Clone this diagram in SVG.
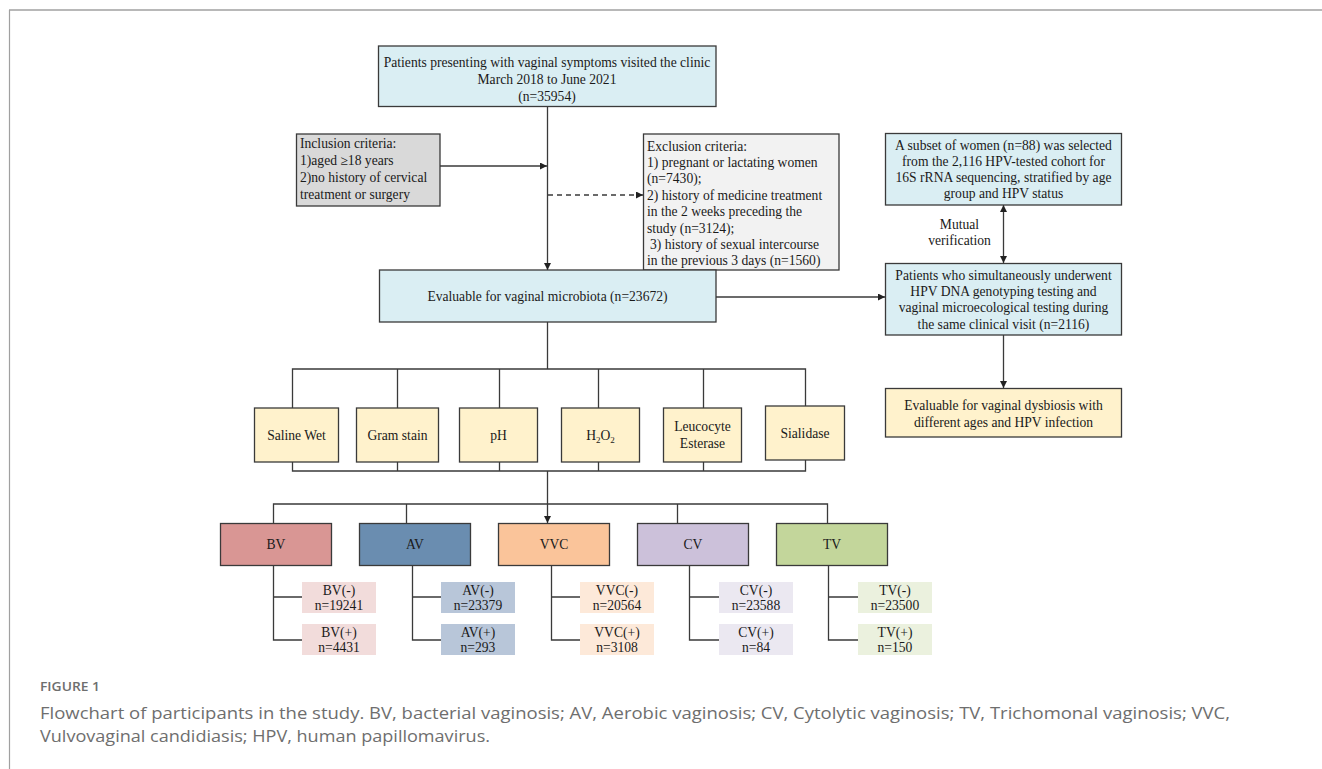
<svg xmlns="http://www.w3.org/2000/svg" width="1322" height="769" viewBox="0 0 1322 769">
<style>
.t{font-family:"Liberation Serif","Times New Roman",serif;font-size:13.6px;fill:#1a1a1a}
.c{text-anchor:middle}
.bx{stroke:#3a3a3a;stroke-width:1.3}
.ln{stroke:#3a3a3a;stroke-width:1.3;fill:none}
.cap{font-family:"Open Sans","Liberation Sans",sans-serif;fill:#6e6e6e}
</style>
<defs>
<marker id="ar" markerUnits="userSpaceOnUse" markerWidth="8" markerHeight="8" refX="7" refY="3.5" orient="auto-start-reverse">
<path d="M0,0 L7,3.5 L0,7 z" fill="#222"/>
</marker>
</defs>
<rect width="1322" height="769" fill="#fff"/>
<line x1="9" y1="10" x2="1322" y2="10" stroke="#a0a0a0" stroke-width="1.6"/>
<line x1="9.5" y1="10" x2="9.5" y2="769" stroke="#a0a0a0" stroke-width="1.2"/>

<g id="connectors">
<line class="ln" x1="547.5" y1="106" x2="547.5" y2="270" marker-end="url(#ar)"/>
<line class="ln" x1="440" y1="166" x2="547" y2="166" marker-end="url(#ar)"/>
<line class="ln" x1="548" y1="195" x2="643" y2="195" stroke-dasharray="5,4" marker-end="url(#ar)"/>
<line class="ln" x1="716" y1="297" x2="885" y2="297" marker-end="url(#ar)"/>
<line class="ln" x1="1003.5" y1="205" x2="1003.5" y2="263" marker-start="url(#ar)" marker-end="url(#ar)"/>
<line class="ln" x1="1003.5" y1="335" x2="1003.5" y2="388" marker-end="url(#ar)"/>
<line class="ln" x1="547.5" y1="322" x2="547.5" y2="369"/>
<path class="ln" d="M292.5,408 V369 H805.5 V406 M397.5,369 V408 M499.5,369 V408 M598.5,369 V408 M703.5,369 V408"/>
<path class="ln" d="M292.5,462 V471 H805.5 V460 M397.5,462 V471 M499.5,462 V471 M598.5,462 V471 M703.5,462 V471"/>
<line class="ln" x1="547.5" y1="471" x2="547.5" y2="523" marker-end="url(#ar)"/>
<path class="ln" d="M273.5,523 V504 H827.5 V523 M406.5,504 V523 M677.5,504 V523"/>
<path class="ln" d="M273.5,565 V640 H302 M273.5,597 H302"/>
<path class="ln" d="M412.5,565 V640 H441 M412.5,597 H441"/>
<path class="ln" d="M551.5,565 V640 H580 M551.5,597 H580"/>
<path class="ln" d="M689.5,565 V640 H719 M689.5,597 H719"/>
<path class="ln" d="M828.5,565 V640 H858 M828.5,597 H858"/>
</g>

<g id="n_start">
<rect class="bx" x="378.5" y="46" width="337.5" height="60.5" fill="#daeef3"/>
<text class="t c" x="547" y="66.5">Patients presenting with vaginal symptoms visited the clinic</text>
<text class="t c" x="547" y="83.5">March 2018 to June 2021</text>
<text class="t c" x="547" y="100.5">(n=35954)</text>
</g>

<g id="n_inclusion">
<rect class="bx" x="296.5" y="134" width="143.5" height="72" fill="#d9d9d9"/>
<text class="t" x="300" y="147.5">Inclusion criteria:</text>
<text class="t" x="300" y="164.5">1)aged ≥18 years</text>
<text class="t" x="300" y="181.5">2)no history of cervical</text>
<text class="t" x="300" y="198.5">treatment or surgery</text>
</g>

<g id="n_exclusion">
<rect class="bx" x="643.5" y="134" width="195.5" height="136" fill="#f2f2f2"/>
<text class="t" x="647" y="150.5">Exclusion criteria:</text>
<text class="t" x="647" y="167">1) pregnant or lactating women</text>
<text class="t" x="647" y="183.3">(n=7430);</text>
<text class="t" x="647" y="199.7">2) history of medicine treatment</text>
<text class="t" x="647" y="216">in the 2 weeks preceding the</text>
<text class="t" x="647" y="232.5">study (n=3124);</text>
<text class="t" x="650" y="249">3) history of sexual intercourse</text>
<text class="t" x="647" y="265.3">in the previous 3 days (n=1560)</text>
</g>

<g id="n_evaluable">
<rect class="bx" x="379.5" y="270" width="336.5" height="52" fill="#daeef3"/>
<text class="t c" x="547.5" y="300.5">Evaluable for vaginal microbiota (n=23672)</text>
</g>

<g id="n_subset">
<rect class="bx" x="885.5" y="133.5" width="236" height="71.5" fill="#daeef3"/>
<text class="t c" x="1003.5" y="149.5">A subset of women (n=88) was selected</text>
<text class="t c" x="1003.5" y="165.5">from the 2,116 HPV-tested cohort for</text>
<text class="t c" x="1003.5" y="182">16S rRNA sequencing, stratified by age</text>
<text class="t c" x="1003.5" y="198">group and HPV status</text>
</g>

<g id="n_mutual">
<text class="t c" x="959.5" y="228.5">Mutual</text>
<text class="t c" x="959.5" y="244.5">verification</text>
</g>

<g id="n_hpv">
<rect class="bx" x="885.5" y="263.5" width="236" height="71.5" fill="#daeef3"/>
<text class="t c" x="1003.5" y="280">Patients who simultaneously underwent</text>
<text class="t c" x="1003.5" y="296">HPV DNA genotyping testing and</text>
<text class="t c" x="1003.5" y="312">vaginal microecological testing during</text>
<text class="t c" x="1003.5" y="328.5">the same clinical visit (n=2116)</text>
</g>

<g id="n_dysbiosis">
<rect class="bx" x="885.5" y="388.5" width="236" height="48.5" fill="#fff2cc"/>
<text class="t c" x="1003.5" y="409.5">Evaluable for vaginal dysbiosis with</text>
<text class="t c" x="1003.5" y="426.5">different ages and HPV infection</text>
</g>

<g id="n_saline">
<rect class="bx" x="254.5" y="408" width="84" height="54" fill="#fff2cc"/>
<text class="t c" x="296.5" y="439.5">Saline Wet</text>
</g>
<g id="n_gram">
<rect class="bx" x="356.5" y="408" width="82" height="54" fill="#fff2cc"/>
<text class="t c" x="397.5" y="439.5">Gram stain</text>
</g>
<g id="n_ph">
<rect class="bx" x="459.5" y="408" width="78" height="54" fill="#fff2cc"/>
<text class="t c" x="498.5" y="439.5">pH</text>
</g>
<g id="n_h2o2">
<rect class="bx" x="561.5" y="408" width="78" height="54" fill="#fff2cc"/>
<text class="t c" x="600.5" y="439.5">H<tspan font-size="9" dy="3">2</tspan><tspan dy="-3">O</tspan><tspan font-size="9" dy="3">2</tspan></text>
</g>
<g id="n_leucocyte">
<rect class="bx" x="663.5" y="408" width="78" height="54" fill="#fff2cc"/>
<text class="t c" x="702.5" y="431">Leucocyte</text>
<text class="t c" x="702.5" y="448">Esterase</text>
</g>
<g id="n_sialidase">
<rect class="bx" x="765.5" y="406" width="79" height="54" fill="#fff2cc"/>
<text class="t c" x="805" y="437.5">Sialidase</text>
</g>

<g id="n_bv">
<rect class="bx" x="220.5" y="523.5" width="111" height="42" fill="#d99694"/>
<text class="t c" x="276" y="549">BV</text>
</g>
<g id="n_av">
<rect class="bx" x="359.5" y="523.5" width="111" height="42" fill="#6a8db0"/>
<text class="t c" x="415" y="549">AV</text>
</g>
<g id="n_vvc">
<rect class="bx" x="498.5" y="523.5" width="111" height="42" fill="#fac49a"/>
<text class="t c" x="554" y="549">VVC</text>
</g>
<g id="n_cv">
<rect class="bx" x="637.5" y="523.5" width="111" height="42" fill="#ccc1da"/>
<text class="t c" x="693" y="549">CV</text>
</g>
<g id="n_tv">
<rect class="bx" x="776.5" y="523.5" width="111" height="42" fill="#c3d69b"/>
<text class="t c" x="832" y="549">TV</text>
</g>

<g id="n_bvneg"><rect x="302" y="582" width="74" height="31" fill="#f2dcdb"/><text class="t c" x="339" y="594.5">BV(-)</text><text class="t c" x="339" y="610">n=19241</text></g>
<g id="n_bvpos"><rect x="302" y="624" width="74" height="31" fill="#f2dcdb"/><text class="t c" x="339" y="636.5">BV(+)</text><text class="t c" x="339" y="652">n=4431</text></g>
<g id="n_avneg"><rect x="441" y="582" width="74" height="31" fill="#b8c6d9"/><text class="t c" x="478" y="594.5">AV(-)</text><text class="t c" x="478" y="610">n=23379</text></g>
<g id="n_avpos"><rect x="441" y="624" width="74" height="31" fill="#b8c6d9"/><text class="t c" x="478" y="636.5">AV(+)</text><text class="t c" x="478" y="652">n=293</text></g>
<g id="n_vvcneg"><rect x="580" y="582" width="74" height="31" fill="#fde9d9"/><text class="t c" x="617" y="594.5">VVC(-)</text><text class="t c" x="617" y="610">n=20564</text></g>
<g id="n_vvcpos"><rect x="580" y="624" width="74" height="31" fill="#fde9d9"/><text class="t c" x="617" y="636.5">VVC(+)</text><text class="t c" x="617" y="652">n=3108</text></g>
<g id="n_cvneg"><rect x="719" y="582" width="74" height="31" fill="#ebe8f1"/><text class="t c" x="756" y="594.5">CV(-)</text><text class="t c" x="756" y="610">n=23588</text></g>
<g id="n_cvpos"><rect x="719" y="624" width="74" height="31" fill="#ebe8f1"/><text class="t c" x="756" y="636.5">CV(+)</text><text class="t c" x="756" y="652">n=84</text></g>
<g id="n_tvneg"><rect x="858" y="582" width="74" height="31" fill="#ebf1de"/><text class="t c" x="895" y="594.5">TV(-)</text><text class="t c" x="895" y="610">n=23500</text></g>
<g id="n_tvpos"><rect x="858" y="624" width="74" height="31" fill="#ebf1de"/><text class="t c" x="895" y="636.5">TV(+)</text><text class="t c" x="895" y="652">n=150</text></g>

<g id="caption">
<text class="cap" x="40" y="691" font-size="13" font-weight="600" textLength="60" lengthAdjust="spacingAndGlyphs">FIGURE 1</text>
<text class="cap" x="40" y="719" font-size="17" textLength="1190" lengthAdjust="spacingAndGlyphs">Flowchart of participants in the study. BV, bacterial vaginosis; AV, Aerobic vaginosis; CV, Cytolytic vaginosis; TV, Trichomonal vaginosis; VVC,</text>
<text class="cap" x="40" y="742" font-size="17" textLength="450" lengthAdjust="spacingAndGlyphs">Vulvovaginal candidiasis; HPV, human papillomavirus.</text>
</g>
</svg>
